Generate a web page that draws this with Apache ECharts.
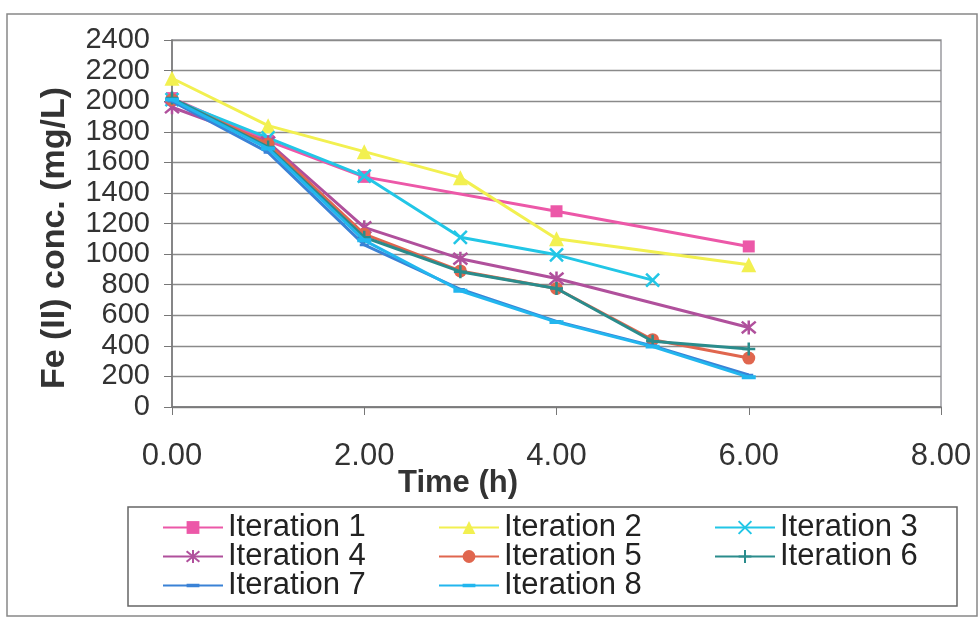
<!DOCTYPE html>
<html><head><meta charset="utf-8">
<script src="https://cdn.jsdelivr.net/npm/echarts@6/dist/echarts.min.js"></script>
<style>html,body{margin:0;padding:0;background:#fff}#c{width:980px;height:619px}</style>
</head><body><div id="c"></div>
<script>
var times = [0, 1, 2, 3, 4, 5, 6];
var seriesNames = ['Iteration 1','Iteration 2','Iteration 3','Iteration 4','Iteration 5','Iteration 6','Iteration 7','Iteration 8'];
var iter1 = [2020, 1740, 1505, null, 1280, null, 1050];
var iter2 = [2150, 1840, 1670, 1500, 1100, null, 930];
var iter3 = [2010, 1760, 1510, 1110, 995, 830, null];
var iter4 = [1960, 1730, 1175, 970, 840, null, 520];
var iter5 = [2010, 1720, 1130, 890, 775, 440, 320];
var iter6 = [2020, 1700, 1110, 885, 775, 430, 380];
var iter7 = [2000, 1665, 1060, 770, 560, 400, 210];
var iter8 = [2010, 1690, 1090, 760, 555, 395, 195];
var yTicks = [0, 200, 400, 600, 800, 1000, 1200, 1400, 1600, 1800, 2000, 2200, 2400];
var xTicks = [0, 2, 4, 6, 8];

var allValues = [iter1, iter2, iter3, iter4, iter5, iter6, iter7, iter8];
var colors = ['#ec58a8', '#f2f050', '#22c6e6', '#b0509c', '#e0664e', '#2a8c8c', '#3a82d6', '#22b6ee'];
var dashPath = 'path://M0,0L0.01,0M0,3.6L10,3.6L10,6.4L0,6.4ZM0,10L0.01,10';
var symbols = ['rect', 'triangle',
  'path://M0,0L10,10M10,0L0,10',
  'path://M0,0L10,10M10,0L0,10M5,-1L5,11',
  'circle',
  'path://M5,0L5,10M0,5L10,5',
  dashPath, dashPath];
var sizes = [12, 15, 13, 14, 13, 13, 9, 14];
var strokeSym = [false, false, true, true, false, true, false, false];

var font = 'Liberation Sans, Arial, sans-serif';
var series = allValues.map(function (vals, i) {
  return {
    name: seriesNames[i], type: 'line', connectNulls: true,
    data: times.map(function (t, k) { return vals[k] == null ? null : [t, vals[k]]; }).filter(function (d) { return d; }),
    symbol: symbols[i], symbolSize: sizes[i], showAllSymbol: true,
    lineStyle: { color: colors[i], width: 3 },
    itemStyle: strokeSym[i] ? { color: colors[i], borderColor: colors[i], borderWidth: 2.5 } : { color: colors[i], borderWidth: 0 },
    z: 2 + i
  };
});

var legendPos = [
  [162, 512], [438, 512], [714, 512],
  [162, 541], [438, 541], [714, 541],
  [162, 570], [438, 570]
];
var legends = seriesNames.map(function (n, i) {
  return {
    data: [n], left: legendPos[i][0], top: legendPos[i][1], itemWidth: 60, itemHeight: 16, itemGap: 4,
    textStyle: { fontFamily: font, fontSize: 31, color: '#222', padding: [0, 0, 0, 0] },
    selectedMode: false, padding: 0
  };
});

var chart = echarts.init(document.getElementById('c'));
chart.setOption({
  animation: false,
  backgroundColor: '#fff',
  grid: { left: 172, right: 39, top: 40, bottom: 212, show: true, borderColor: '#9a9aa0', borderWidth: 1.5 },
  xAxis: {
    type: 'value', min: xTicks[0], max: xTicks[xTicks.length - 1], interval: 2,
    axisLine: { show: true, onZero: false, lineStyle: { color: '#777', width: 1.5 } },
    axisTick: { show: true, length: 8, lineStyle: { color: '#777' } },
    splitLine: { show: false },
    axisLabel: { fontFamily: font, fontSize: 31, color: '#333', margin: 34, showMinLabel: true, showMaxLabel: true,
      formatter: function (v) { return v.toFixed(2); } }
  },
  yAxis: {
    type: 'value', min: yTicks[0], max: yTicks[yTicks.length - 1], interval: 200,
    axisLine: { show: true, lineStyle: { color: '#777', width: 1.5 } },
    axisTick: { show: true, length: 8, lineStyle: { color: '#777' } },
    splitLine: { show: true, lineStyle: { color: '#8a8a8a', width: 1.3 } },
    axisLabel: { fontFamily: font, fontSize: 29, color: '#333', margin: 22, showMinLabel: true, showMaxLabel: true,
      formatter: function (v) { return String(v); } }
  },
  title: [{ text: 'Time (h)', left: 453, top: 463, textAlign: 'center',
    textStyle: { fontFamily: font, fontSize: 31, fontWeight: 'bold', color: '#333' } }],
  legend: legends,
  graphic: [
    { type: 'rect', shape: { x: 7, y: 14, width: 970, height: 602 }, style: { fill: 'none', stroke: '#888', lineWidth: 1.5 }, silent: true },
    { type: 'rect', shape: { x: 128, y: 507, width: 829, height: 99 }, style: { fill: 'none', stroke: '#666', lineWidth: 1.5 }, silent: true },
    { type: 'text', x: 55, y: 238, rotation: Math.PI / 2, silent: true,
      style: { text: 'Fe (II) conc. (mg/L)', fontFamily: font, fontSize: 34, fontWeight: 'bold', fill: '#333', align: 'center', verticalAlign: 'middle' } }
  ],
  series: series
});
</script></body></html>
